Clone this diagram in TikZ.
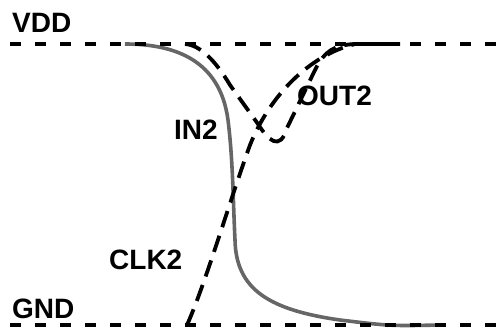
\documentclass[tikz,border=0pt]{standalone}
\usepackage{fontspec}
\setmainfont{Liberation Sans}
\begin{document}
\begin{tikzpicture}[x=1pt,y=-1pt,
  lbl/.style={font=\fontsize{28}{28}\selectfont\bfseries, inner sep=0pt, anchor=west},
  rail/.style={line width=4pt, dash pattern=on 11pt off 14pt},
  sig/.style={line width=3.8pt, dash pattern=on 17pt off 9pt},
  ingray/.style={line width=3.6pt, draw=black!60}]
\useasboundingbox (0,0) rectangle (500,330);
% IN2 (solid gray)
\draw[ingray] (125,44)
  .. controls (175,44) and (220,60) .. (228,120)
  .. controls (233,160) and (233,200) .. (235,240)
  .. controls (236,290) and (270,310) .. (340,320)
  .. controls (390,326) .. (440,325);
% supply rails
\draw[rail] (10,44) -- (500,44);
\draw[rail] (10,325) -- (500,325);
% CLK2 (dashed, rising)
\draw[sig] (187,325) .. controls (205,285) and (230,200) .. (250,145)
  .. controls (270,95) and (310,55) .. (355,44) -- (380,44);
% OUT2 (dashed, dip)
\draw[sig] (185,44) .. controls (200,45) and (215,60) .. (230,85)
  -- (258,124) .. controls (268,140) and (280,152) .. (287,128)
  -- (315,70) .. controls (325,50) and (335,45) .. (355,44) -- (400,44);
% labels
\node[lbl] (vdd) at (12,22.5) {VDD};
\node[lbl] (gnd) at (12,309) {GND};
\node[lbl] (in2) at (174,130) {IN2};
\node[lbl] (out2) at (297,96) {OUT2};
\node[lbl] (clk2) at (109,260) {CLK2};
\end{tikzpicture}
\end{document}
